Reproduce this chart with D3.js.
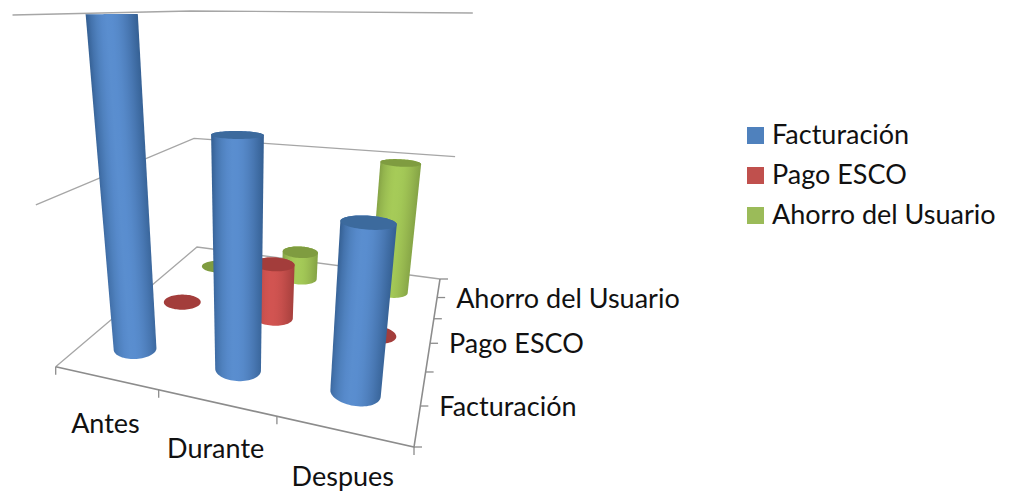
<!DOCTYPE html>
<html><head><meta charset="utf-8">
<script src="https://cdn.jsdelivr.net/npm/d3@7"></script>
<style>html,body{margin:0;background:#fff}svg{display:block}text{font-family:Lato,"Open Sans",sans-serif;fill:#111}</style>
</head><body><svg id="c" width="1009" height="495"></svg>
<script>
const categories = ["Antes","Durante","Despues"];
const seriesNames = ["Facturación","Pago ESCO","Ahorro del Usuario"];
const facturacion = [2.0,1.38,0.98];
const pagoEsco = [0,0.42,0];
const ahorro = [0,0.25,1.0];
const seriesValues = [facturacion,pagoEsco,ahorro];
const valueTicks = [1,2];
const seriesColors = ["#4f81bd","#c0504d","#9bbb59"];
const edgeColors = ["#345f92","#a5403d","#84a245"];
const centerColors = ["#5a8ed0","#d25451","#a6cb58"];
const capColors = ["#3c6a9d","#a33d3b","#7f9c40"];

const svg = d3.select("#c");
const defs = svg.append("defs");
// floor quad and vanishing point of the vertical direction
const FL=[55.7,366.7],FR=[414,447],BR=[440,279],BL=[197,247],VP=[242,1884];
const topY={fl:15,fr:14,br:13,bl:11};
function squareToQuad(p0,p1,p2,p3){
  const dx1=p1[0]-p2[0],dx2=p3[0]-p2[0],sx=p0[0]-p1[0]+p2[0]-p3[0];
  const dy1=p1[1]-p2[1],dy2=p3[1]-p2[1],sy=p0[1]-p1[1]+p2[1]-p3[1];
  const d=dx1*dy2-dx2*dy1;
  const g=(sx*dy2-dx2*sy)/d,h=(dx1*sy-sx*dy1)/d;
  const a=p1[0]-p0[0]+g*p1[0],b=p3[0]-p0[0]+h*p3[0],c=p0[0];
  const e=p1[1]-p0[1]+g*p1[1],f=p3[1]-p0[1]+h*p3[1],k=p0[1];
  return (u,v)=>{const w=g*u+h*v+1;return [(a*u+b*v+c)/w,(e*u+f*v+k)/w];};
}
const floor=squareToQuad(FL,FR,BR,BL);
const uScale=d3.scaleBand().domain(categories).range([0,1]);
const vScale=d3.scaleBand().domain(seriesNames).range([0,1]);
const hScale=d3.scalePow().exponent(1.12).domain([0,2]).range([0,1]).clamp(true);
function project(u,v,val){
  const b=floor(u,v);
  const yTop=(1-u)*(1-v)*topY.fl+u*(1-v)*topY.fr+u*v*topY.br+(1-u)*v*topY.bl;
  const y=b[1]-(b[1]-yTop)*hScale(val);
  const x=VP[0]+(b[0]-VP[0])*(VP[1]-y)/(VP[1]-b[1]);
  return [x,y];
}
const line=d3.line();
const gridColor="#a6a6a6";
valueTicks.forEach(t=>{
  svg.append("path").attr("d",line([project(0,0,t),project(0,1,t),project(1,1,t)]))
    .attr("fill","none").attr("stroke",gridColor).attr("stroke-width",1.3);
});
svg.append("path").attr("d",line([FL,BL,BR])).attr("fill","none").attr("stroke",gridColor).attr("stroke-width",1.3);
svg.append("path").attr("d",line([FL,FR,BR])).attr("fill","none").attr("stroke","#8c8c8c").attr("stroke-width",1.6);
d3.range(0,categories.length+1).forEach(i=>{
  const p=floor(i/categories.length,0);
  svg.append("line").attr("x1",p[0]).attr("y1",p[1]).attr("x2",p[0]).attr("y2",p[1]+8).attr("stroke","#8c8c8c").attr("stroke-width",1.3);
});
d3.range(0,seriesNames.length*2+1).forEach(i=>{
  const p=floor(1,i/(seriesNames.length*2));
  svg.append("line").attr("x1",p[0]).attr("y1",p[1]).attr("x2",p[0]+8).attr("y2",p[1]).attr("stroke","#8c8c8c").attr("stroke-width",1.3);
});
// cylinders
const ru=0.066,rv=0.058,N=36;
const items=[];
seriesNames.forEach((s,si)=>categories.forEach((c,ci)=>items.push({si,ci,c,s,val:seriesValues[si][ci]})));
items.sort((a,b)=>d3.descending(a.si,b.si)||d3.ascending(a.ci,b.ci));
items.forEach((d,idx)=>{
  const u0=uScale(d.c)+uScale.bandwidth()/2, v0=vScale(d.s)+vScale.bandwidth()/2;
  const ring=val=>d3.range(N*2).map(i=>{const t=i/(N*2)*2*Math.PI;return project(u0+ru*Math.cos(t),v0+rv*Math.sin(t),val);});
  const g=svg.append("g");
  if(d.val>0){
    const lo=ring(0),hi=ring(d.val);
    const hull=d3.polygonHull(lo.concat(hi));
    // shading runs across the cylinder, perpendicular to its leaning axis
    const c0=project(u0,v0,0),c1=project(u0,v0,d.val);
    const ax=[c1[0]-c0[0],c1[1]-c0[1]],len=Math.hypot(ax[0],ax[1]);
    const n=[-ax[1]/len,ax[0]/len];
    const side=n[0]>0?1:-1;
    const nx=n[0]*side,ny=n[1]*side;
    const dots=hull.map(p=>p[0]*nx+p[1]*ny);
    const a=d3.min(dots),b=d3.max(dots);
    const cm=[(c0[0]+c1[0])/2,(c0[1]+c1[1])/2],dm=cm[0]*nx+cm[1]*ny;
    const id="g"+idx;
    const grad=defs.append("linearGradient").attr("id",id).attr("gradientUnits","userSpaceOnUse")
      .attr("x1",cm[0]+nx*(a-dm)).attr("y1",cm[1]+ny*(a-dm))
      .attr("x2",cm[0]+nx*(b-dm)).attr("y2",cm[1]+ny*(b-dm));
    const shade=d3.interpolateRgb(edgeColors[d.si],centerColors[d.si]);
    d3.range(0,1.001,0.1).forEach(o=>{
      const k=Math.pow(Math.sin(Math.PI*Math.pow(o,0.85)),1.0);
      grad.append("stop").attr("offset",o).attr("stop-color",shade(k));
    });
    g.append("path").attr("d",line(hull)+"Z").attr("fill",`url(#${id})`);
  }
  if(!(d.ci===0&&d.si===0)) g.append("path").attr("d",line(ring(d.val))+"Z").attr("fill",capColors[d.si]);
});
// axis labels
categories.forEach(c=>{
  const p=floor(uScale(c)+uScale.bandwidth()/2,0);
  svg.append("text").attr("x",p[0]).attr("y",p[1]+55).attr("text-anchor","middle").attr("font-size",27).text(c);
});
seriesNames.forEach(s=>{
  const p=floor(1,vScale(s)+vScale.bandwidth()/2);
  svg.append("text").attr("x",p[0]+19).attr("y",p[1]+10).attr("font-size",27).text(s);
});
// legend
const legendY=d3.scalePoint().domain(seriesNames).range([135,215]);
seriesNames.forEach((s,i)=>{
  svg.append("rect").attr("x",747).attr("y",legendY(s)-8).attr("width",17).attr("height",17).attr("fill",seriesColors[i]);
  svg.append("text").attr("x",772).attr("y",legendY(s)+9).attr("font-size",27).text(s);
});
</script></body></html>
